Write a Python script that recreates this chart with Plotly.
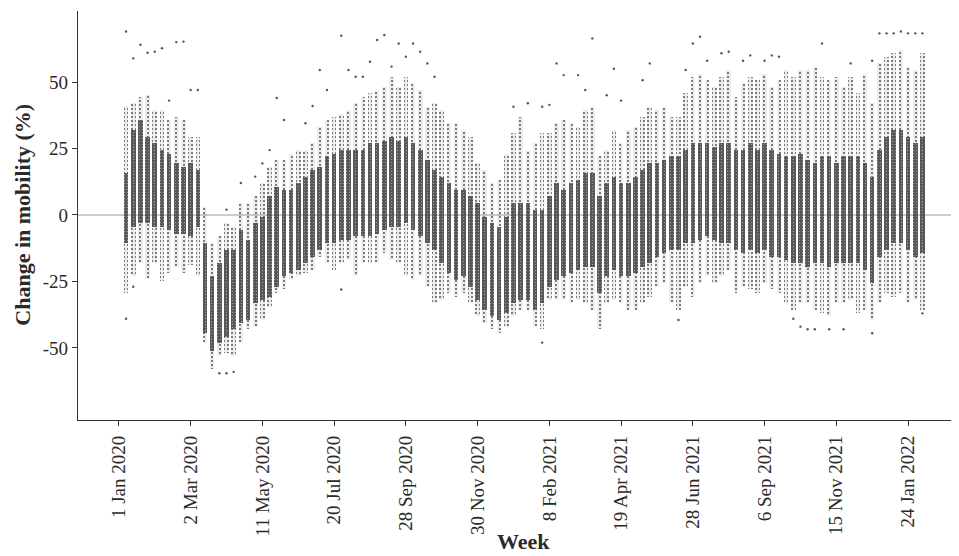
import plotly.graph_objects as go

# Week index (1 = first week of 2020) and weekly distribution of mobility change (%)
weeks = list(range(1, 113))

core_hi = [15.7, 32, 35.7, 29.4, 27, 24.4, 23, 19.4, 18, 19.4, 17,
           -10.7, -23, -18, -13, -13, -5.6, -9.4, -3, -0.6, 7, 10.7, 9.4, 9.4, 12, 14.4, 17,
           18, 22, 23, 24.4, 24.4, 24.4, 24.4, 27, 27, 28, 29.4, 28, 29.4, 27, 24.4, 20.7, 17,
           14.4, 12, 9.4, 9.4, 7, 4.4, -0.6, -3, -4.4, -0.6, 4.4, 4.4,
           4.4, 2, 2, 7, 12, 9.4, 12, 13, 15.7, 15.7, 7, 12, 14.4, 12, 12, 14.4, 17, 19.4,
           19.4, 20.7, 22, 22, 24.4, 27, 27, 27, 25.7, 27, 27,
           24.4, 24.4, 27, 24.4, 27, 24.4, 23, 22, 22, 23, 20.7, 19.4, 22, 22, 19.4, 22, 22,
           22, 19.4, 14.4, 24.4, 29.4, 32, 32, 29.4, 27, 29.4]
core_lo = [-10.7, -4.4, -3, -3, -4.4, -4.4, -5.6, -7, -7, -8, -4.4,
           -44.5, -51, -48, -46, -43, -40.7, -39.5, -33, -32, -30.7, -27, -23, -22, -20.7, -18, -15.7,
           -13, -10.7, -10.7, -9.4, -9.4, -8, -8, -8, -7, -5.6, -4.4, -4.4, -3, -5.6, -8, -10.7, -13,
           -18, -22, -24.4, -23, -27, -32, -35.7, -38, -39.5, -37, -33, -32,
           -32, -35.7, -33, -27, -24.4, -23, -22, -20.7, -19.4, -19.4, -29.5, -23, -20.7, -23, -23, -22, -19.4, -18,
           -15.7, -14.4, -13, -13, -10.7, -10.7, -9.4, -8, -9.4, -10.7, -10.7,
           -13, -14.4, -13, -14.4, -13, -15.7, -15.7, -17, -18, -18, -19.4, -18, -18, -19.4, -18, -18, -18,
           -18, -20.7, -25.7, -15.7, -13, -10.7, -10.7, -13, -15.7, -14.4]
spread_hi = [41, 42, 44.5, 45, 39.5, 39.5, 35.7, 37, 35.7, 29.4, 29.4,
             3, -10.7, -8, -3, -4.4, 4.4, 4.4, 7, 12, 18, 20.7, 20.7, 23, 24.4, 24.4, 27,
             33, 35.7, 37, 38, 39.5, 42, 44.5, 45.7, 47, 48, 52, 48, 52, 49.5, 47, 40.7, 42,
             39.5, 34.5, 34.5, 32, 29.4, 19.4, 17, 12, 13, 23, 30.7, 37,
             24.4, 27, 30.7, 30.7, 34.5, 35.7, 34.5, 33, 39.5, 40.7, 22, 24.4, 32, 27, 32, 33, 37, 40.7,
             39.5, 40.7, 37, 37, 45.7, 52, 53, 50.7, 48, 52, 54.5,
             44.5, 49.5, 52, 50.7, 53, 48, 50.7, 54.5, 52, 54.5, 54.5, 55.8, 52, 50.7, 52, 48, 52,
             45.7, 53, 42, 57, 59.5, 60.8, 62, 55.8, 54.5, 60.8]
spread_lo = [-29.5, -23, -18, -24, -18, -25, -22, -19.4, -22, -19, -23,
             -48, -58, -53, -52, -53, -48, -43, -42, -39.5, -34.5, -29.5, -28, -24.4, -23, -22, -20.7,
             -15.7, -18, -20.7, -18, -17, -23, -18, -18, -18, -14.4, -17, -18, -23, -24.4, -23, -27, -33,
             -32, -29.5, -30.7, -29.5, -33, -38, -40.7, -43, -44.5, -42, -38, -35.7,
             -35.7, -42, -43, -32, -32, -32, -33, -32, -33, -35.7, -43, -33, -32, -33, -35.7, -35.7, -33, -30.7,
             -27, -25.7, -33, -35.7, -27, -30.7, -25.7, -23, -25.7, -23, -20.7,
             -29.5, -27, -28, -29.5, -25.7, -28, -29.5, -33, -35.7, -33, -33, -35.7, -37, -38, -33, -33, -32,
             -37, -35.7, -39.5, -33, -29.5, -30.7, -29.5, -33, -32, -35.7]
extreme_hi = [69, 58.9, 64, 61, 61.4, 62.7, 43, 65, 65.2, 47, 47,
              None, None, None, 2, None, 12, None, 14.4, 19.4, 24.4, 44, 35.7, None, None, 34.5, 41,
              54.5, 47, None, 67.4, 54.5, 52, 52, 57.6, 65.8, 67.7, 55.8, 64.5, 59.5, 64.5, 61.4, 57, 52,
              None, None, None, None, None, None, None, None, None, None, 40.7, None,
              42, None, 40.7, 41.4, 57, 52.6, None, 52.6, 47, 66.4, None, 45, 55, 43, None, None, 50.7, 57,
              None, None, None, None, 54.5, 64.5, 67, 58, None, 60.8, 61.4,
              None, 58, 60, None, 58, 60, 59.5, None, None, None, None, None, 64.5, None, None, None, 57,
              None, None, 58, 68.3, 68.3, 68.3, 69, 68.3, 68.3, 68.3]
extreme_lo = [-39, -27, None, None, None, None, None, None, None, None, None,
              None, None, -59.5, -59.5, -59, None, None, None, None, None, None, None, None, None, None, None,
              None, None, None, -28, None, None, None, None, None, None, None, None, None, None, None, None, None,
              None, None, None, None, None, None, None, None, None, None, None, None,
              None, None, -48, None, None, None, None, None, None, None, None, None, None, None, None, None, None, None,
              None, None, None, -39.5, None, None, None, None, None, None, None,
              None, None, None, None, None, None, None, None, -39, -42, -43, -43, None, -43, None, -43, None,
              None, None, -44.5, None, None, None, None, None, None, -37]

tick_pos = [0, 10, 20, 30, 40, 50, 60, 70, 80, 90, 100, 110]
tick_text = ["1 Jan 2020", "2 Mar 2020", "11 May 2020", "20 Jul 2020", "28 Sep 2020",
             "30 Nov 2020", "8 Feb 2021", "19 Apr 2021", "28 Jun 2021", "6 Sep 2021",
             "15 Nov 2021", "24 Jan 2022"]
y_ticks = [-50, -25, 0, 25, 50]
y_text = ["-50", "-25", "0", "25", "50"]

DOT = "#555555"
SERIF = "Liberation Serif, Times New Roman, serif"
TXT = "#2a2a2a"

fig = go.Figure()

# sparse tails of each week's jittered points
fig.add_trace(go.Bar(
    x=weeks, base=spread_lo,
    y=[h - l for h, l in zip(spread_hi, spread_lo)],
    width=0.64,
    marker=dict(color="rgba(85,85,85,0.12)", line_width=0,
                pattern=dict(shape=".", fgcolor="rgba(80,80,80,0.9)", bgcolor="rgba(85,85,85,0.11)",
                             size=4, solidity=0.22, fillmode="replace")),
    hoverinfo="skip", showlegend=False))

# dense core of each week
fig.add_trace(go.Bar(
    x=weeks, base=core_lo,
    y=[h - l for h, l in zip(core_hi, core_lo)],
    width=0.64,
    marker=dict(color="rgba(85,85,85,0.9)", line_width=0,
                pattern=dict(shape=".", fgcolor="rgba(255,255,255,0.5)", bgcolor="rgba(78,78,78,0.92)",
                             size=3, solidity=0.12, fillmode="replace")),
    hoverinfo="skip", showlegend=False))

# isolated extreme points
fig.add_trace(go.Scatter(
    x=weeks + weeks, y=extreme_hi + extreme_lo, mode="markers",
    marker=dict(size=2.4, color=DOT), hoverinfo="skip", showlegend=False))

# the page adds an 8px body margin, so the figure is drawn 8px smaller and
# every position is measured from (8, 8)
fig.update_layout(
    width=951, height=548,
    margin=dict(l=70, r=0, t=3, b=136),
    paper_bgcolor="white", plot_bgcolor="white",
    barmode="overlay", bargap=0,
    font=dict(family=SERIF, size=19, color=TXT),
    xaxis=dict(range=[-5.7, 117.1], tickvals=tick_pos, ticktext=tick_text,
               tickangle=-90, ticks="outside", ticklen=5, tickwidth=1.2, tickcolor="#333",
               ticklabelstandoff=2,
               showline=True, linecolor="#333", linewidth=1.4, showgrid=False, zeroline=False,
               tickfont=dict(family=SERIF, size=19, color=TXT)),
    yaxis=dict(range=[-77.1, 76.7], tickvals=y_ticks, ticktext=y_text,
               ticks="outside", ticklen=5, tickwidth=1.2, tickcolor="#333",
               showline=True, linecolor="#333", linewidth=1.4, showgrid=False,
               zeroline=True, zerolinecolor="#cccccc", zerolinewidth=1.5,
               tickfont=dict(family=SERIF, size=19, color=TXT)),
    annotations=[
        dict(text="<b>Week</b>", x=0.506, y=-0.297, xref="paper", yref="paper",
             xanchor="center", yanchor="middle", showarrow=False,
             font=dict(family=SERIF, size=22, color=TXT)),
        dict(text="<b>Change in mobility (%)</b>", x=-0.064, y=0.501, xref="paper", yref="paper",
             xanchor="center", yanchor="middle", textangle=-90, showarrow=False,
             font=dict(family=SERIF, size=22, color=TXT)),
    ],
)

fig.write_html("out.html")
